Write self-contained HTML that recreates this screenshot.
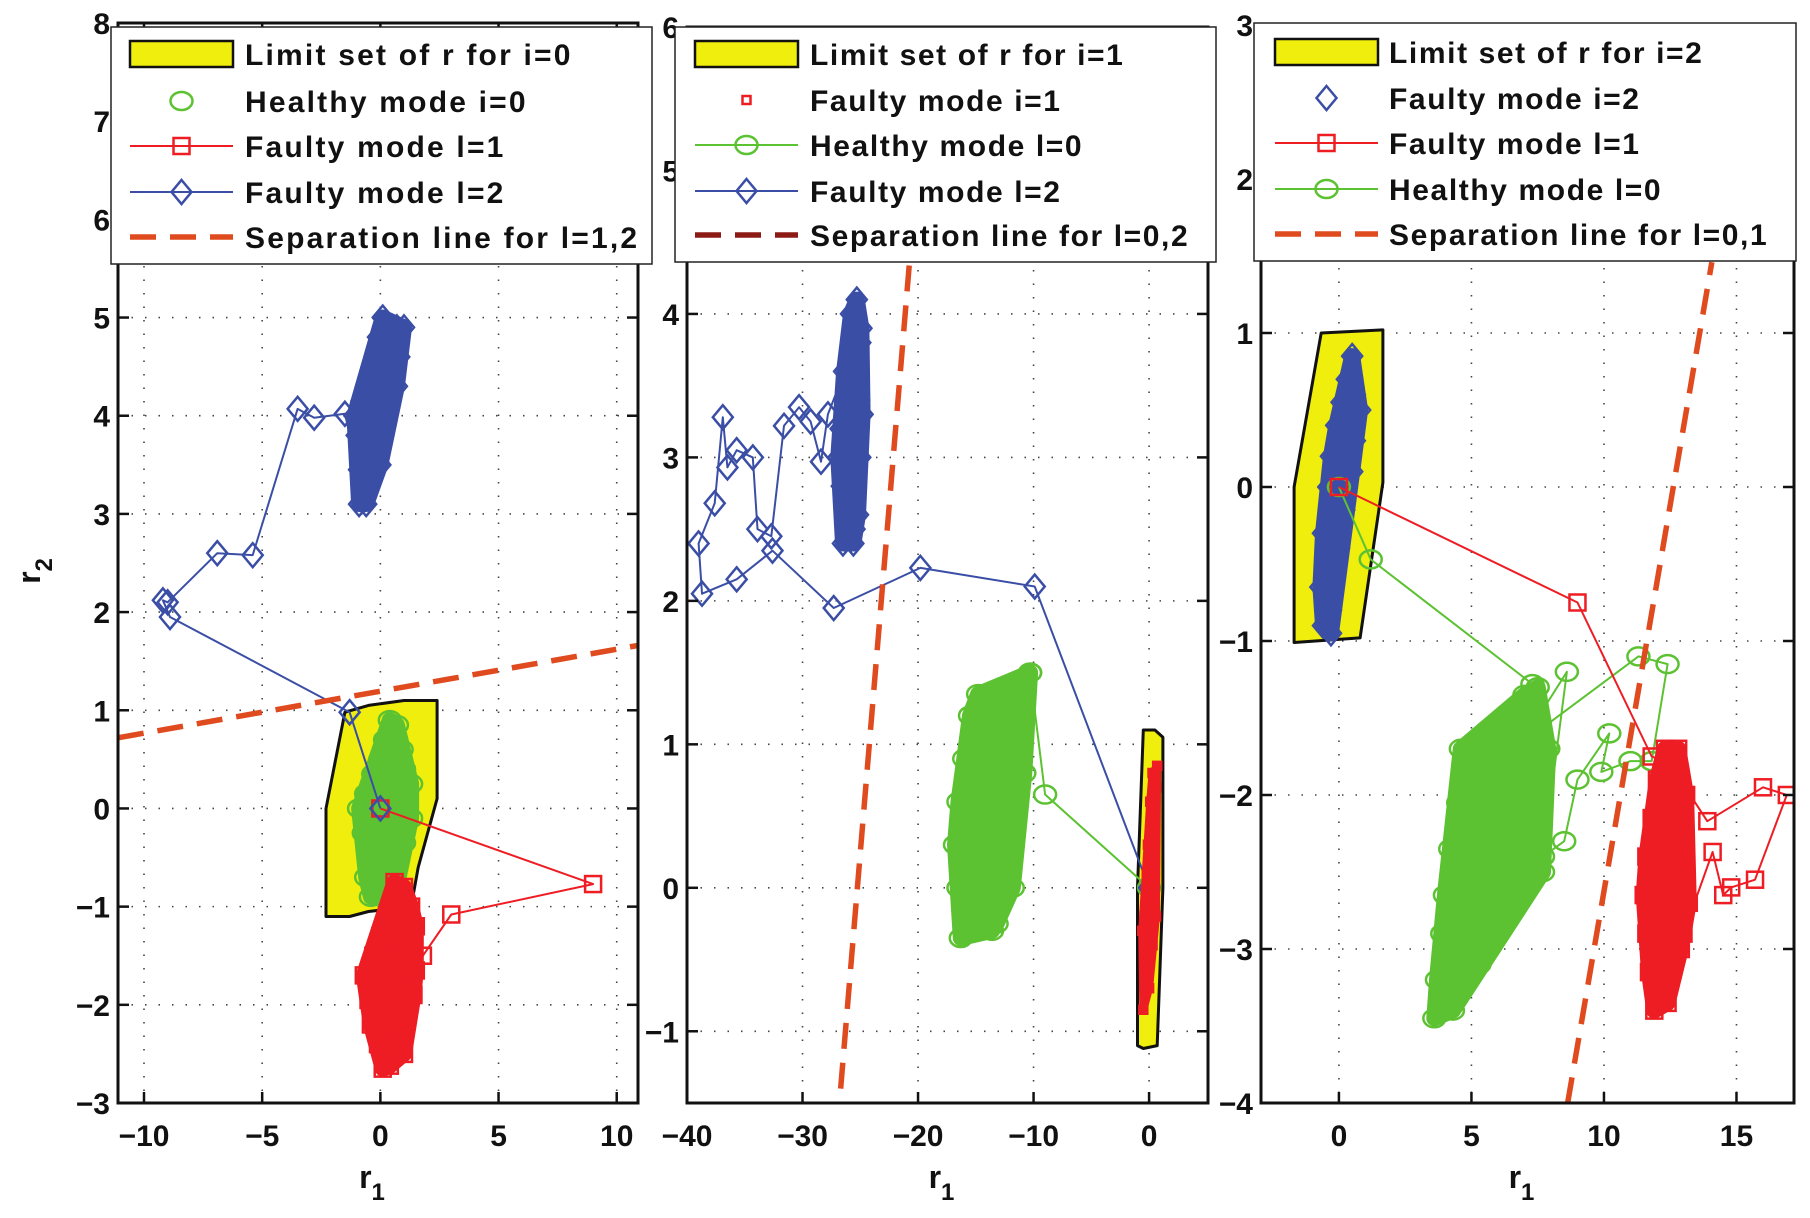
<!DOCTYPE html>
<html><head><meta charset="utf-8"><style>
html,body{margin:0;padding:0;background:#fff;}
svg{display:block;font-family:"Liberation Sans",sans-serif;font-weight:bold;}
</style></head><body>
<svg id="fig" width="1810" height="1218" viewBox="0 0 1810 1218" xmlns="http://www.w3.org/2000/svg"></svg>
<script>
// ---------- data ----------
const p1Limit=[[-2.3,-1.1],[-2.3,0],[-1.5,0.98],[-0.5,1.05],[1.0,1.1],[2.4,1.1],[2.4,0.1],[1.6,-0.6],[1.3,-1.0],[-0.5,-1.05],[-1.3,-1.1]];
const p1Green=[[0.4,0.9],[0.7,0.85],[0.2,0.7],[0.6,0.65],[0.9,0.6],[0.0,0.5],[0.4,0.45],[1.0,0.4],[-0.3,0.35],[0.3,0.3],[0.7,0.25],[1.3,0.25],[-0.6,0.15],[0.0,0.1],[0.5,0.1],[1.0,0.05],[-0.9,0.0],[-0.4,-0.05],[0.2,-0.1],[0.8,-0.1],[1.3,-0.1],[-0.7,-0.25],[-0.2,-0.3],[0.4,-0.3],[1.0,-0.35],[-0.5,-0.5],[0.1,-0.5],[0.7,-0.55],[-0.6,-0.7],[0.0,-0.7],[0.5,-0.75],[-0.4,-0.9],[0.2,-0.92],[0.6,-0.9],[0.3,0.0],[0.6,0.4],[-0.2,0.2],[0.1,-0.2]];
const p1RedPath=[[0,0],[9,-0.77],[3,-1.08],[1.8,-1.5]];
const p1Red=[[0.6,-0.75],[1.0,-0.8],[0.8,-0.95],[1.3,-1.0],[0.3,-1.1],[0.9,-1.15],[1.5,-1.2],[0.0,-1.3],[0.6,-1.35],[1.2,-1.4],[-0.3,-1.5],[0.3,-1.55],[0.9,-1.6],[1.5,-1.65],[-0.7,-1.7],[0.0,-1.75],[0.6,-1.8],[1.2,-1.85],[-0.5,-1.95],[0.2,-2.0],[0.8,-2.05],[1.4,-1.9],[-0.4,-2.2],[0.3,-2.25],[0.9,-2.3],[-0.1,-2.4],[0.5,-2.45],[1.0,-2.5],[0.1,-2.65],[0.4,-2.62],[0.6,-2.2],[0.4,-1.2]];
const p1BluePath=[[0,0],[-1.3,0.98],[-8.9,1.95],[-9.2,2.12],[-9.0,2.1],[-6.9,2.6],[-5.4,2.58],[-3.5,4.07],[-2.8,3.98],[-1.5,4.02]];
const p1Blue=[[-0.9,3.1],[-0.7,3.2],[-0.5,3.35],[-0.9,3.45],[-0.3,3.5],[-0.7,3.65],[-0.2,3.7],[-1.0,3.8],[0.1,3.8],[-0.5,3.9],[-1.1,4.0],[0.2,4.0],[-0.3,4.1],[-0.8,4.15],[0.4,4.15],[0.0,4.25],[-0.6,4.3],[0.7,4.3],[0.2,4.4],[-0.4,4.45],[0.5,4.5],[-0.2,4.6],[0.8,4.6],[0.1,4.7],[0.5,4.75],[-0.1,4.8],[0.3,4.9],[0.7,4.9],[0.1,5.0],[1.0,4.9],[-0.4,4.0],[0.0,3.5],[-0.6,3.1]];
const p1Sep=[[-11.1,0.72],[10.9,1.66]];

const p2Limit=[[-1,-1.1],[-0.5,-1.12],[0.7,-1.1],[1.2,0],[1.2,1.05],[0.5,1.1],[-0.5,1.1],[-1,0]];
const p2Red=[[-0.5,-0.85],[0.0,-0.7],[-0.3,-0.5],[0.3,-0.4],[-0.4,-0.2],[0.2,-0.1],[-0.2,0.1],[0.5,0.2],[-0.1,0.3],[0.4,0.45],[0.1,0.6],[0.6,0.7],[0.3,0.8],[0.7,0.85],[-0.6,-0.3],[0.6,-0.2],[0.0,-0.3],[0.2,0.35]];
const p2GreenPath=[[0,0],[-9,0.65],[-10.3,1.5]];
const p2Green=[[-16.3,-0.35],[-15.8,-0.3],[-14.8,-0.2],[-13.2,-0.25],[-16.5,0.0],[-15.5,0.05],[-14.5,0.0],[-13.5,0.05],[-12.5,0.1],[-16.8,0.3],[-15.8,0.3],[-14.8,0.3],[-13.8,0.35],[-12.8,0.4],[-11.8,0.3],[-16.5,0.6],[-15.5,0.65],[-14.5,0.6],[-13.5,0.7],[-12.5,0.65],[-11.5,0.7],[-10.8,0.8],[-16,0.9],[-15,0.95],[-14,1.0],[-13,0.95],[-12,1.0],[-11,1.1],[-15.5,1.2],[-14.6,1.3],[-13.5,1.25],[-12.2,1.35],[-11.2,1.45],[-10.3,1.5],[-13,1.1],[-14.8,1.35],[-12.8,-0.1],[-13.6,-0.3],[-11.8,0.0]];
const p2BluePath=[[0,0],[-9.9,2.1],[-19.8,2.23],[-27.3,1.95],[-32.6,2.35],[-35.7,2.15],[-38.7,2.05],[-39,2.4],[-37.6,2.68],[-36.9,3.28],[-36.5,2.93],[-35.7,3.05],[-34.3,3.0],[-33.9,2.5],[-32.7,2.45],[-31.6,3.22],[-30.3,3.35],[-29.3,3.25],[-28.4,2.97],[-27.8,3.3]];
const p2Blue=[[-26.5,2.4],[-25.6,2.4],[-26.2,2.6],[-25.2,2.6],[-26.6,2.8],[-25.6,2.8],[-26.0,3.0],[-25.0,3.0],[-26.7,3.2],[-25.5,3.2],[-26.1,3.4],[-25.1,3.4],[-26.4,3.6],[-25.4,3.6],[-25.8,3.8],[-25.0,3.8],[-25.8,4.0],[-25.3,4.1],[-24.8,3.3],[-26.9,3.0],[-25.5,2.5],[-25.9,3.5],[-25.4,2.9],[-24.9,3.9]];
const p2Sep=[[-26.7,-1.4],[-20.7,4.4]];

const p3Limit=[[-1.69,-1.01],[0.8,-0.98],[1.66,0.03],[1.66,1.02],[-0.67,1.0],[-1.69,0]];
const p3Blue=[[-0.6,-0.9],[-0.3,-0.8],[-0.7,-0.65],[-0.2,-0.6],[-0.5,-0.45],[0.0,-0.4],[-0.6,-0.3],[-0.2,-0.2],[0.2,-0.15],[-0.4,0.0],[0.1,0.05],[0.5,0.1],[-0.3,0.2],[0.2,0.25],[0.6,0.3],[-0.1,0.4],[0.4,0.45],[0.1,0.55],[0.6,0.6],[0.3,0.7],[0.5,0.85],[0.8,0.5],[-0.3,-0.95],[0.0,0.0]];
const p3RedPath=[[0,0],[9,-0.75],[11.8,-1.75],[12.5,-1.8],[13.9,-2.17],[16,-1.95],[16.9,-2.0],[15.7,-2.55],[14.8,-2.6],[14.5,-2.65],[14.1,-2.37],[13.0,-2.9]];
const p3Red=[[12.3,-1.7],[12.8,-1.7],[12.0,-1.9],[12.6,-1.95],[13.1,-2.0],[11.8,-2.15],[12.4,-2.2],[13.0,-2.25],[11.6,-2.4],[12.2,-2.45],[12.8,-2.5],[11.5,-2.65],[12.1,-2.7],[12.7,-2.75],[13.2,-2.7],[11.6,-2.9],[12.3,-2.95],[12.9,-3.0],[11.7,-3.15],[12.3,-3.2],[11.9,-3.4],[12.4,-3.35],[12.0,-3.0],[12.5,-2.3]];
const p3GreenPath=[[0,0],[1.2,-0.47],[7.3,-1.28],[7.5,-1.5],[8.6,-1.2],[7.7,-2.4],[8.5,-2.3],[9.0,-1.9],[10.2,-1.6],[9.9,-1.85],[11.0,-1.78],[11.8,-1.78],[12.4,-1.15],[11.3,-1.1],[7.4,-1.6]];
const p3Green=[[3.6,-3.45],[4.3,-3.4],[3.7,-3.2],[4.5,-3.1],[3.9,-2.9],[4.8,-2.9],[5.5,-2.95],[4.0,-2.65],[4.8,-2.6],[5.6,-2.6],[4.2,-2.35],[5.0,-2.3],[5.8,-2.35],[6.5,-2.4],[4.5,-2.05],[5.3,-2.0],[6.1,-2.05],[6.9,-2.1],[4.8,-1.8],[5.6,-1.75],[6.4,-1.8],[7.2,-1.9],[5.8,-1.6],[6.6,-1.55],[7.4,-1.6],[7.0,-1.35],[7.5,-1.3],[7.9,-1.7],[7.7,-2.5],[6.2,-2.8],[5.3,-3.1],[4.6,-1.7]];
const p3Sep=[[8.63,-4],[14.07,1.46]];

const p1XTicks=[-10,-5,0,5,10], p1YTicks=[-3,-2,-1,0,1,2,3,4,5,6,7,8];
const p2XTicks=[-40,-30,-20,-10,0], p2YTicks=[-1,0,1,2,3,4,5,6];
const p3XTicks=[0,5,10,15], p3YTicks=[-4,-3,-2,-1,0,1,2,3];

const p1Legend=["Limit set of r for i=0","Healthy mode i=0","Faulty mode l=1","Faulty mode l=2","Separation line for l=1,2"];
const p2Legend=["Limit set of r for i=1","Faulty mode i=1","Healthy mode l=0","Faulty mode l=2","Separation line for l=0,2"];
const p3Legend=["Limit set of r for i=2","Faulty mode i=2","Faulty mode l=1","Healthy mode l=0","Separation line for l=0,1"];

// ---------- drawing ----------
const NS="http://www.w3.org/2000/svg";
const svg=document.getElementById('fig');
const GREEN="#5cc232",RED="#ee1d24",BLUE="#3b4ea6",YEL="#f0ee0c",SEP="#e04a1f";
function el(tag,attrs,parent){const e=document.createElementNS(NS,tag);for(const k in attrs)e.setAttribute(k,attrs[k]);(parent||svg).appendChild(e);return e;}

function hull(P){
  const p=P.slice().sort((a,b)=>a[0]-b[0]||a[1]-b[1]);
  const cr=(o,a,b)=>(a[0]-o[0])*(b[1]-o[1])-(a[1]-o[1])*(b[0]-o[0]);
  const lo=[],up=[];
  for(const q of p){while(lo.length>=2&&cr(lo[lo.length-2],lo[lo.length-1],q)<=0)lo.pop();lo.push(q);}
  for(let i=p.length-1;i>=0;i--){const q=p[i];while(up.length>=2&&cr(up[up.length-2],up[up.length-1],q)<=0)up.pop();up.push(q);}
  up.pop();lo.pop();return lo.concat(up);
}

function marker(g,type,x,y,col,small){
  let m;
  if(type==='o'){m=el('ellipse',{cx:x,cy:y,rx:11,ry:9,fill:'none',stroke:col,'stroke-width':2.5},g);}
  else if(type==='s'){const s=small?4:8;m=el('rect',{x:x-s,y:y-s,width:2*s,height:2*s,fill:'none',stroke:col,'stroke-width':2.5},g);}
  else {m=el('path',{d:`M${x} ${y-12}L${x+10} ${y}L${x} ${y+12}L${x-10} ${y}Z`,fill:'none',stroke:col,'stroke-width':2.5},g);}
  return m;
}

function panel(cfg){
  const g=el('g',{});
  
  
  const sx=v=>cfg.px0+(v-cfg.xmin)/(cfg.xmax-cfg.xmin)*(cfg.px1-cfg.px0);
  const sy=v=>cfg.py1-(v-cfg.ymin)/(cfg.ymax-cfg.ymin)*(cfg.py1-cfg.py0);
  el('rect',{x:cfg.px0,y:cfg.py0,width:cfg.px1-cfg.px0,height:cfg.py1-cfg.py0,fill:'#fff'},g);
  const clip='clip'+cfg.id;
  const cp=el('clipPath',{id:clip},g);
  el('rect',{x:cfg.px0,y:cfg.py0,width:cfg.px1-cfg.px0,height:cfg.py1-cfg.py0},cp);
  cfg.xt.forEach(t=>{const l=el('line',{x1:sx(t),x2:sx(t),y1:cfg.py0,y2:cfg.py1,stroke:'#444','stroke-width':1.6,'stroke-dasharray':'1.5 12'},g);
    });
  cfg.yt.forEach(t=>{const l=el('line',{x1:cfg.px0,x2:cfg.px1,y1:sy(t),y2:sy(t),stroke:'#444','stroke-width':1.6,'stroke-dasharray':'1.5 12'},g);
    });
  const d=el('g',{'clip-path':`url(#${clip})`},g);
  const pts=a=>a.map(p=>sx(p[0]).toFixed(1)+','+sy(p[1]).toFixed(1)).join(' ');
  const lim=el('polygon',{points:pts(cfg.limit),fill:YEL,stroke:'#111','stroke-width':3,'stroke-linejoin':'round'},d);
  
  cfg.series.forEach(s=>{
    const sg=el('g',{},d);
    
    
    if(s.path){el('polyline',{points:pts(s.path.concat([s.pts[s.pts.length-1]])),fill:'none',stroke:s.col,'stroke-width':2,'stroke-linejoin':'round'},sg);}
    const h=el('polygon',{points:pts(hull(s.pts)),fill:s.col,stroke:s.col,'stroke-width':s.small?8:16,'stroke-linejoin':'round'},sg);
    
    s.pts.forEach(p=>{const m=marker(sg,s.type,sx(p[0]),sy(p[1]),s.col,s.small);
      });
    if(s.path)s.path.forEach(p=>{const m=marker(sg,s.type,sx(p[0]),sy(p[1]),s.col,s.small);
      });
  });
  const sep=el('line',{x1:sx(cfg.sep[0][0]),y1:sy(cfg.sep[0][1]),x2:sx(cfg.sep[1][0]),y2:sy(cfg.sep[1][1]),stroke:SEP,'stroke-width':5.5,'stroke-dasharray':'26 14'},d);
  
  cfg.xt.forEach(t=>{
    el('line',{x1:sx(t),x2:sx(t),y1:cfg.py1,y2:cfg.py1-11,stroke:'#111','stroke-width':2.5},g);
    el('line',{x1:sx(t),x2:sx(t),y1:cfg.py0,y2:cfg.py0+11,stroke:'#111','stroke-width':2.5},g);
    const tx=el('text',{x:sx(t),y:cfg.py1+43,'text-anchor':'middle','font-size':30,fill:'#111'},g);
    tx.textContent=(t<0?'\u2212':'')+Math.abs(t);
    
  });
  cfg.yt.forEach(t=>{
    el('line',{x1:cfg.px0,x2:cfg.px0+11,y1:sy(t),y2:sy(t),stroke:'#111','stroke-width':2.5},g);
    el('line',{x1:cfg.px1,x2:cfg.px1-11,y1:sy(t),y2:sy(t),stroke:'#111','stroke-width':2.5},g);
    const tx=el('text',{x:cfg.px0-8,y:sy(t)+11,'text-anchor':'end','font-size':30,fill:'#111'},g);
    tx.textContent=(t<0?'\u2212':'')+Math.abs(t);
    
  });
  el('rect',{x:cfg.px0,y:cfg.py0,width:cfg.px1-cfg.px0,height:cfg.py1-cfg.py0,fill:'none',stroke:'#111','stroke-width':3},g);
  const xl=el('text',{x:(cfg.px0+cfg.px1)/2-6,y:1188,'text-anchor':'middle','font-size':32,fill:'#111'},g);
  
  xl.textContent='r';
  const sub=el('tspan',{'font-size':24,dy:12},xl);sub.textContent='1';
  const L=cfg.leg;
  const lg=el('g',{},g);
  
  
  el('rect',{x:L.x0,y:L.y0,width:L.x1-L.x0,height:L.y1-L.y0,fill:'#fff',stroke:'#222','stroke-width':1.5},lg);
  L.items.forEach((it,i)=>{
    const y=L.rows[i], a=L.sw0, b=L.sw1, mid=(a+b)/2;
    const eg=el('g',{},lg);
    
    
    if(it.kind==='fill'){el('rect',{x:a,y:y-13,width:b-a,height:26,fill:YEL,stroke:'#111','stroke-width':2.5},eg);}
    else if(it.kind==='dash'){el('line',{x1:a,x2:b,y1:y,y2:y,stroke:it.col,'stroke-width':5.5,'stroke-dasharray':'26 14'},eg);}
    else{ if(it.line)el('line',{x1:a,x2:b,y1:y,y2:y,stroke:it.col,'stroke-width':2},eg);
      marker(eg,it.type,mid,y,it.col,it.small);}
    const t=el('text',{x:L.tx,y:y+11,'font-size':30,'letter-spacing':L.ls,fill:'#111'},eg);
    t.textContent=cfg.legText[i];
  });
}

panel({id:1,name:'panel-i0',px0:118,px1:638,py0:23,py1:1103,xmin:-11.1,xmax:10.9,ymin:-3,ymax:8,xt:p1XTicks,yt:p1YTicks,
  limit:p1Limit,sep:p1Sep,legText:p1Legend,
  series:[{name:'healthy-i0',pts:p1Green,type:'o',col:GREEN},
          {name:'faulty-l1',pts:p1Red,path:p1RedPath,type:'s',col:RED},
          {name:'faulty-l2',pts:p1Blue,path:p1BluePath,type:'d',col:BLUE}],
  leg:{x0:111,x1:652,y0:27,y1:264,rows:[54,101,146,192,237],sw0:130,sw1:233,tx:245,ls:2.2,
    items:[{kind:'fill'},{type:'o',col:GREEN},{type:'s',col:RED,line:1},{type:'d',col:BLUE,line:1},{kind:'dash',col:SEP}]}});
panel({id:2,name:'panel-i1',px0:687,px1:1208,py0:27,py1:1103,xmin:-40,xmax:5.1,ymin:-1.5,ymax:6,xt:p2XTicks,yt:p2YTicks,
  limit:p2Limit,sep:p2Sep,legText:p2Legend,
  series:[{name:'healthy-l0',pts:p2Green,path:p2GreenPath,type:'o',col:GREEN},
          {name:'faulty-l2',pts:p2Blue,path:p2BluePath,type:'d',col:BLUE},
          {name:'faulty-i1',pts:p2Red,type:'s',col:RED,small:1}],
  leg:{x0:675,x1:1216,y0:27,y1:262,rows:[54,100,145,191,235],sw0:695,sw1:798,tx:810,ls:1.6,
    items:[{kind:'fill'},{type:'s',col:RED,small:1},{type:'o',col:GREEN,line:1},{type:'d',col:BLUE,line:1},{kind:'dash',col:'#8b1a14'}]}});
panel({id:3,name:'panel-i2',px0:1261,px1:1794,py0:25,py1:1103,xmin:-2.94,xmax:17.17,ymin:-4,ymax:3,xt:p3XTicks,yt:p3YTicks,
  limit:p3Limit,sep:p3Sep,legText:p3Legend,
  series:[{name:'faulty-i2',pts:p3Blue,type:'d',col:BLUE},
          {name:'healthy-l0',pts:p3Green,path:p3GreenPath,type:'o',col:GREEN},
          {name:'faulty-l1',pts:p3Red,path:p3RedPath,type:'s',col:RED}],
  leg:{x0:1254,x1:1796,y0:23,y1:261,rows:[52,98,143,189,234],sw0:1275,sw1:1378,tx:1389,ls:1.6,
    items:[{kind:'fill'},{type:'d',col:BLUE},{type:'s',col:RED,line:1},{type:'o',col:GREEN,line:1},{kind:'dash',col:SEP}]}});

const yl=el('text',{x:0,y:0,'text-anchor':'middle','font-size':32,fill:'#111',transform:'translate(40,571) rotate(-90)'});


yl.textContent='r';
const ys=el('tspan',{'font-size':24,dy:12},yl);ys.textContent='2';
</script>
</body></html>
